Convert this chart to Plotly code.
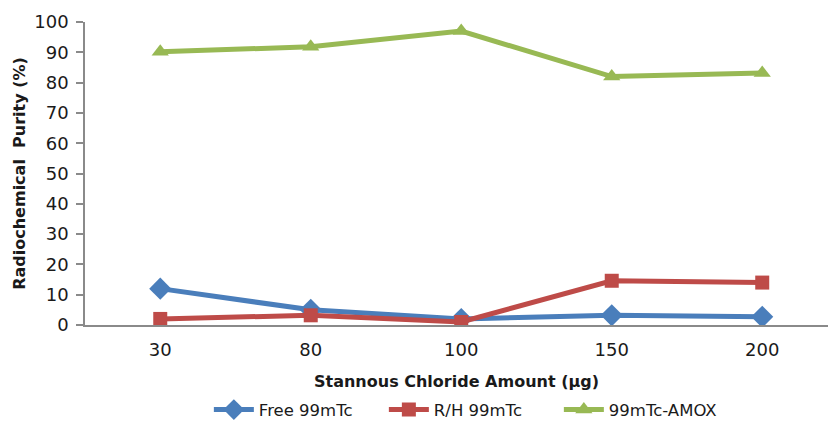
import plotly.graph_objects as go

# Stannous chloride amounts (µg) and radiochemical purity (%) of each species
amounts = ["30", "80", "100", "150", "200"]
free_tc = [12, 5, 2, 3.2, 2.7]
rh_tc = [2, 3.2, 1, 14.6, 14]
amox_tc = [90.2, 91.8, 97, 82, 83.2]
err_small = [0.6, 0.6, 0.6, 0.6, 0.6]

y_ticks = [0, 10, 20, 30, 40, 50, 60, 70, 80, 90, 100]

series = [
    ("Free 99mTc", free_tc, "#4A7EBB", "diamond", 17),
    ("R/H 99mTc", rh_tc, "#BE4B48", "square", 14),
    ("99mTc-AMOX", amox_tc, "#98B954", "triangle-up", 15),
]

fig = go.Figure()
for name, vals, color, symbol, size in series:
    fig.add_trace(go.Scatter(
        x=amounts, y=vals, name=name, mode="lines+markers",
        line=dict(color=color, width=5),
        marker=dict(symbol=symbol, size=size, color=color),
        error_y=dict(type="data", array=err_small, color="black",
                     thickness=1.5, width=3),
    ))

font_family = "DejaVu Sans, Verdana, sans-serif"

fig.update_layout(
    width=828, height=423,
    margin=dict(l=85, r=0, t=22, b=98, autoexpand=False),
    paper_bgcolor="white", plot_bgcolor="white",
    font=dict(family=font_family, color="#1a1a1a"),
    showlegend=True,
    legend=dict(
        orientation="h", x=0.52, xanchor="center", y=-0.28, yanchor="middle",
        font=dict(size=16.5, family=font_family), itemwidth=40,
        entrywidth=120, traceorder="normal", tracegroupgap=0,
    ),
)

fig.update_xaxes(
    type="category", range=[-0.5, 4.437], automargin=False,
    showline=True, linecolor="#8a8a8a", linewidth=1.5,
    showgrid=False, ticks="", zeroline=False,
    tickfont=dict(size=18, family=font_family), ticklabelstandoff=8,
    title=dict(text="<b>Stannous Chloride Amount (µg)</b>",
               font=dict(size=16, family=font_family), standoff=16),
)

fig.update_yaxes(
    range=[0, 100], tickvals=y_ticks, automargin=False,
    showline=True, linecolor="#8a8a8a", linewidth=1.5,
    showgrid=False, zeroline=False,
    ticks="outside", ticklen=7, tickcolor="#8a8a8a", tickwidth=1.5,
    tickfont=dict(size=18, family=font_family), ticklabelstandoff=4,
    title=dict(text="<b>Radiochemical  Purity (%)</b>",
               font=dict(size=16, family=font_family), standoff=5),
)

fig.write_html("out.html")
